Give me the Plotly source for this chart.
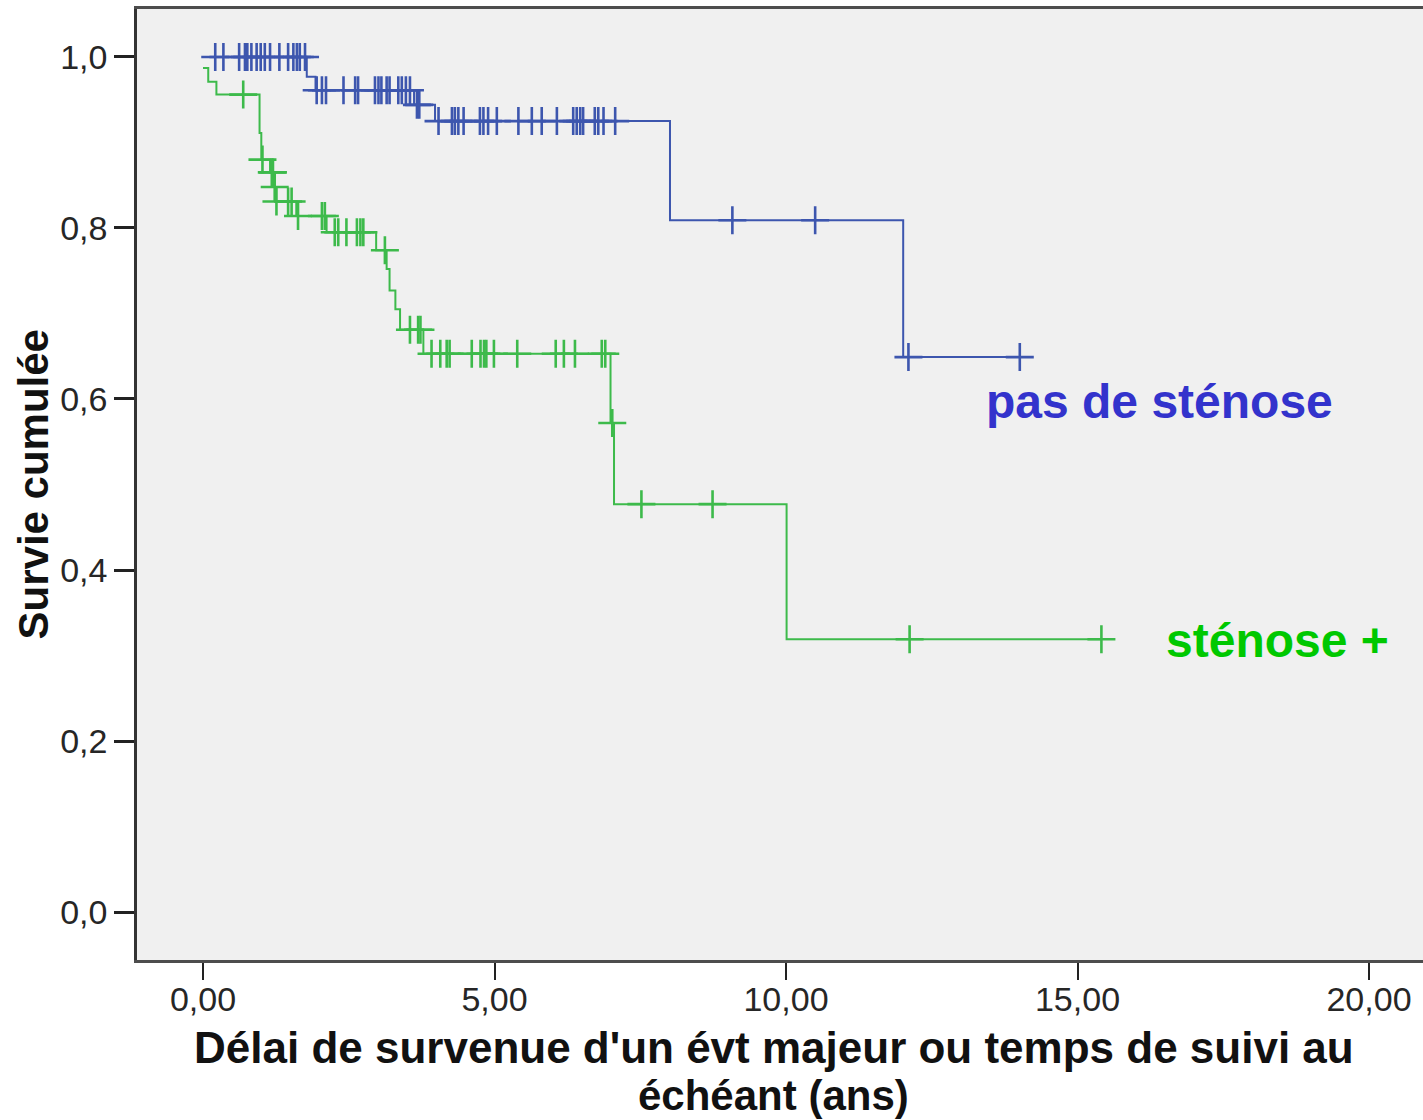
import bisect
import plotly.graph_objects as go

# ---- Kaplan-Meier estimates (time in years, cumulative survival) ----
# Group without stenosis: step times and survival after each step,
# last point = end of follow-up
no_sten_time = [0.0, 1.78, 1.93, 3.62, 3.98, 8.01, 12.01, 14.01]
no_sten_surv = [1.000, 0.977, 0.961, 0.944, 0.925, 0.809, 0.649, 0.649]
no_sten_censored = [
    0.21, 0.35, 0.62, 0.72, 0.76, 0.83, 0.92, 0.99, 1.06, 1.15, 1.31, 1.46,
    1.55, 1.61, 1.66, 1.75,
    1.95, 2.04, 2.11, 2.41, 2.61, 2.66, 2.95, 3.01, 3.06, 3.15, 3.20, 3.35,
    3.41, 3.48, 3.55,
    3.67, 3.71,
    4.04, 4.27, 4.32, 4.38, 4.47, 4.75, 4.81, 4.89, 5.04, 5.41, 5.64, 5.81,
    6.07, 6.35, 6.41, 6.47, 6.52, 6.72, 6.78, 6.87, 7.07,
    9.08, 10.50,
    12.10, 14.01,
]

# Group with stenosis
sten_time = [0.0, 0.09, 0.23, 0.97, 1.00, 1.15, 1.21, 1.245, 1.60, 2.12,
             2.97, 3.15, 3.20, 3.30, 3.38, 3.78, 6.99, 7.05, 10.01, 15.41]
sten_surv = [0.987, 0.971, 0.956, 0.911, 0.880, 0.865, 0.848, 0.831, 0.814,
             0.795, 0.774, 0.752, 0.727, 0.705, 0.681, 0.653, 0.572, 0.477,
             0.319, 0.319]
sten_censored = [
    0.69, 1.02, 1.18, 1.20, 1.23, 1.26, 1.46, 1.52, 1.63, 2.04, 2.09,
    2.26, 2.32, 2.46, 2.64, 2.70, 2.75, 3.12,
    3.55, 3.69, 3.73,
    3.92, 4.07, 4.18, 4.23, 4.61, 4.76, 4.82, 4.86, 4.99, 5.39, 6.05, 6.19,
    6.38, 6.84, 6.90,
    7.02, 7.52, 8.74, 12.12, 15.41,
]

x_tick_vals = [0, 5, 10, 15, 20]
x_tick_text = ["0,00", "5,00", "10,00", "15,00", "20,00"]
y_tick_vals = [0.0, 0.2, 0.4, 0.6, 0.8, 1.0]
y_tick_text = ["0,0", "0,2", "0,4", "0,6", "0,8", "1,0"]

BLUE = "#3D56AE"
GREEN = "#3DBA4B"
FONT = "Liberation Sans, Arial, sans-serif"


def surv_at(times, surv, t):
    """Survival value of the step function at time t."""
    i = bisect.bisect_right(times, t) - 1
    return surv[max(i, 0)]


fig = go.Figure()

for times, surv, cens, col in [
    (no_sten_time, no_sten_surv, no_sten_censored, BLUE),
    (sten_time, sten_surv, sten_censored, GREEN),
]:
    fig.add_trace(go.Scatter(
        x=times, y=surv, mode="lines",
        line=dict(color=col, width=2, shape="hv"),
        showlegend=False, hoverinfo="skip",
    ))
    fig.add_trace(go.Scatter(
        x=cens, y=[surv_at(times, surv, c) for c in cens], mode="markers",
        marker=dict(symbol="cross-thin", size=20,
                    line=dict(color=col, width=2.6)),
        showlegend=False, hoverinfo="skip",
    ))

tick_font = dict(family=FONT, size=34, color="#262626")
title_font = dict(family=FONT, size=42, color="#111111", weight="bold")

fig.update_layout(
    width=1423, height=1120,
    margin=dict(l=137, r=0, t=9, b=160),
    paper_bgcolor="white",
    plot_bgcolor="#F0F0F0",
    xaxis=dict(
        range=[-1.132, 20.926], tickvals=x_tick_vals, ticktext=x_tick_text,
        ticks="outside", ticklen=17, tickwidth=2, tickcolor="#222222",
        tickfont=tick_font, ticklabelstandoff=-10,
        showgrid=False, zeroline=False,
        showline=True, linecolor="#4d4d4d", linewidth=2.5, mirror=True,
    ),
    yaxis=dict(
        range=[-0.0561, 1.0561], tickvals=y_tick_vals, ticktext=y_tick_text,
        ticks="outside", ticklen=20, tickwidth=2.5, tickcolor="#222222",
        tickfont=tick_font, showgrid=False, zeroline=False,
        showline=True, linecolor="#333333", linewidth=2.5,
    ),
    annotations=[
        # axis titles
        dict(text="Survie cumulée", textangle=-90,
             xref="paper", yref="paper", x=-0.0801, y=0.5,
             xanchor="center", yanchor="middle", showarrow=False,
             font=title_font),
        dict(text="Délai de survenue d'un évt majeur ou temps de suivi au",
             xref="paper", yref="paper", x=0.4953, y=(960 - 1047) / 951,
             xanchor="center", yanchor="middle", showarrow=False,
             font=dict(family=FONT, size=44, color="#111111",
                       weight="bold")),
        dict(text="échéant (ans)",
             xref="paper", yref="paper", x=0.4953, y=(960 - 1095) / 951,
             xanchor="center", yanchor="middle", showarrow=False,
             font=title_font),
        # group labels
        dict(text="pas de sténose", x=13.39, y=0.597, xref="x", yref="y",
             xanchor="left", yanchor="middle", showarrow=False,
             font=dict(family=FONT, size=48, color="#3333CC",
                       weight="bold")),
        dict(text="sténose +", x=16.48, y=0.317, xref="x", yref="y",
             xanchor="left", yanchor="middle", showarrow=False,
             font=dict(family=FONT, size=48, color="#00C800",
                       weight="bold")),
    ],
)

fig.write_html("out.html")
